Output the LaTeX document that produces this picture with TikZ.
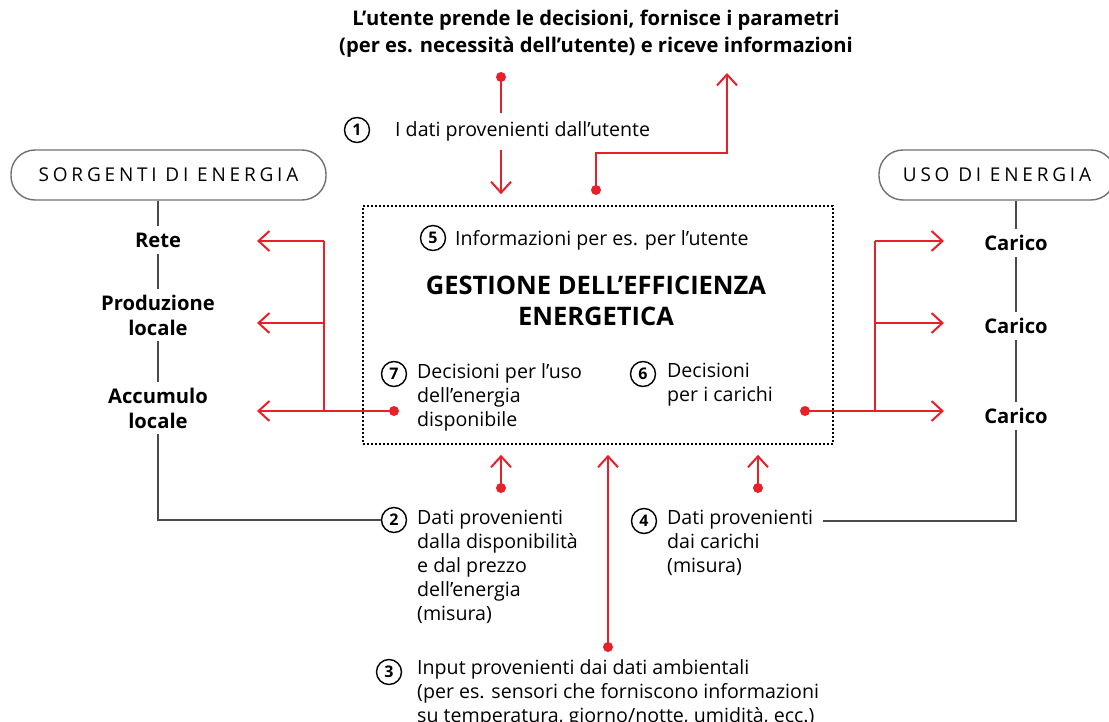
\documentclass[tikz,border=0pt]{standalone}
\usepackage{fontspec}
\setmainfont{Open Sans}
\usetikzlibrary{arrows.meta,calc}
\definecolor{abbred}{HTML}{E8202A}
\definecolor{linegray}{HTML}{4A4A4A}
\definecolor{boxgray}{HTML}{707070}
\tikzset{
  redline/.style={draw=abbred, line width=2pt},
  redarrow/.style={redline, -{Straight Barb[length=11pt,width=20pt,line width=2pt]}},
  reddot/.style={circle, fill=abbred, inner sep=0pt, minimum size=10pt},
  num/.style={circle, draw=black, line width=1.4pt, inner sep=0pt, minimum size=25pt, font=\fontsize{16}{16}\selectfont\bfseries},
  body/.style={font=\fontsize{19.6}{24}\selectfont, align=left, inner sep=0pt, anchor=north west},
  oneline/.style={font=\fontsize{19.6}{24}\selectfont, inner sep=0pt, anchor=west},
  item/.style={font=\fontsize{20.2}{25}\selectfont\bfseries, align=center, inner xsep=0pt, inner ysep=6pt},
  cat/.style={draw=boxgray, line width=1.4pt, rounded corners=24pt, minimum height=50pt, inner sep=0pt,
              font=\fontsize{19}{20}\selectfont\addfontfeatures{LetterSpace=20}},
  grayline/.style={draw=linegray, line width=1.2pt},
  mgmt/.style={draw=black, line width=1.6pt, dash pattern=on 1.6pt off 2.4pt, inner sep=0pt}
}
\begin{document}
\begin{tikzpicture}[x=1pt,y=-1pt]
\useasboundingbox (0,0) rectangle (1109,722);

% title
\node[font=\fontsize{20.2}{27}\selectfont\bfseries, align=center, inner sep=0pt] (title) at (596,34)
  {L’utente prende le decisioni, fornisce i parametri\\(per es. necessità dell’utente) e riceve informazioni};

% management box
\node[mgmt, minimum width=470pt, minimum height=238pt] (box) at (598,325) {};
\node[font=\fontsize{25.5}{31}\selectfont\bfseries, align=center, inner sep=0pt] (gest) at (596,301)
  {GESTIONE DELL’EFFICIENZA\\ENERGETICA};

% category boxes
\node[cat, minimum width=315pt] (src) at (168.5,175) {SORGENTI DI ENERGIA};
\node[cat, minimum width=236pt] (use) at (997,175) {USO DI ENERGIA};

% source items
\node[item] (rete) at (158,240) {Rete};
\node[item] (prod) at (158,315) {Produzione\\locale};
\node[item] (acc) at (158,408) {Accumulo\\locale};
% load items
\node[item] (car1) at (1016,243) {Carico};
\node[item] (car2) at (1016,326) {Carico};
\node[item] (car3) at (1016,416) {Carico};

% numbered labels
\node[num] (n1) at (357,130) {1};
\node[num] (n5) at (433,238) {5};
\node[num] (n7) at (394,374) {7};
\node[num] (n6) at (643,374) {6};
\node[num] (n2) at (394,520) {2};
\node[num] (n4) at (644,521) {4};
\node[num] (n3) at (389,672) {3};

\node[oneline] (t5) at (455,240) {Informazioni per es. per l’utente};
\node[body] (t7) at (417,363) {Decisioni per l’uso\\dell’energia\\disponibile};
\node[body] (t6) at (667,363) {Decisioni\\per i carichi};
\node[body] (t2) at (417,510) {Dati provenienti\\dalla disponibilità\\e dal prezzo\\dell’energia\\(misura)};
\node[body] (t4) at (667,510) {Dati provenienti\\dai carichi\\(misura)};
\node[body] (t3) at (417,659.5) {Input provenienti dai dati ambientali\\(per es. sensori che forniscono informazioni\\su temperatura, giorno/notte, umidità, ecc.)};

% gray connector lines
\draw[grayline] (src.south -| rete) -- (rete.north);
\draw[grayline] (rete.south) -- (prod.north);
\draw[grayline] (prod.south) -- (acc.north);
\draw[grayline] (acc.south) -- (acc.south |- n2.west) -- (n2.west);
\draw[grayline] (use.south -| car1) -- (car1.north);
\draw[grayline] (car1.south) -- (car2.north);
\draw[grayline] (car2.south) -- (car3.north);
\draw[grayline] (car3.south) -- (car3.south |- n4.east) -- ($(t4.east |- n4.east)+(10,0)$);

% (1) user input arrow, interrupted by its label
\node[reddot] (d1) at (501,77) {};
\draw[redarrow, shorten >=11pt] (d1.center) -- (box.north -| d1);
\node[oneline, fill=white, minimum height=37pt] (t1) at (395,131.5) {I dati provenienti dall’utente};

% (5) information to user
\node[reddot] (d5) at (596,190) {};
\coordinate (k5) at (727,153);
\coordinate (tip5) at (727,73);
\draw[redarrow] (d5.center) -- (d5.center |- k5) -- (k5) -- (tip5);

% (7) decisions on available energy
\node[reddot] (d7) at (394,411) {};
\coordinate (jl1) at (324,241);
\coordinate (jl2) at (324,323);
\coordinate (jl3) at (324,411);
\coordinate (al1) at (257,241);
\coordinate (al2) at (257,323);
\coordinate (al3) at (257,411);
\draw[redline] (d7.center) -- (jl3) -- (jl1);
\draw[redarrow] (jl1) -- (al1);
\draw[redarrow] (jl2) -- (al2);
\draw[redarrow] (jl3) -- (al3);

% (6) decisions for loads
\node[reddot] (d6) at (805,411) {};
\coordinate (jr1) at (875,241);
\coordinate (jr2) at (875,323);
\coordinate (jr3) at (875,411);
\coordinate (ar1) at (944,241);
\coordinate (ar2) at (944,323);
\coordinate (ar3) at (944,411);
\draw[redline] (d6.center) -- (jr3) -- (jr1);
\draw[redarrow] (jr1) -- (ar1);
\draw[redarrow] (jr2) -- (ar2);
\draw[redarrow] (jr3) -- (ar3);

% (2), (3), (4) inputs from below
\node[reddot] (d2) at (501,488) {};
\node[reddot] (d3) at (608,647) {};
\node[reddot] (d4) at (758,488) {};
\draw[redarrow, shorten >=10pt] (d2.center) -- (box.south -| d2);
\draw[redarrow, shorten >=10pt] (d3.center) -- (box.south -| d3);
\draw[redarrow, shorten >=10pt] (d4.center) -- (box.south -| d4);
\end{tikzpicture}
\end{document}
